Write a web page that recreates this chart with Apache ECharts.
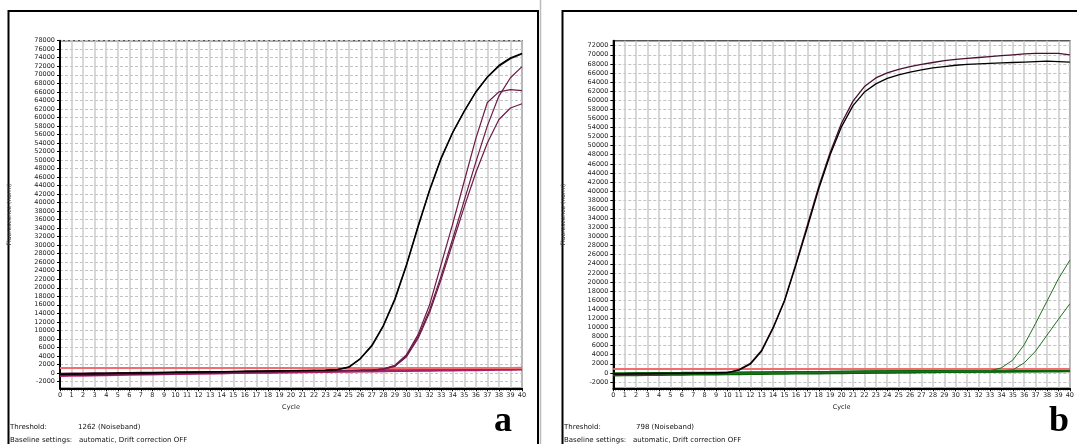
<!DOCTYPE html>
<html>
<head>
<meta charset="utf-8">
<script src="https://cdn.jsdelivr.net/npm/echarts@6/dist/echarts.min.js"></script>
<style>html,body{margin:0;padding:0;background:#fff;}#c{width:1077px;height:444px;}</style>
</head>
<body>
<div id="c"></div>
<script>
// ---------- DATA ----------
const cycles = [0,1,2,3,4,5,6,7,8,9,10,11,12,13,14,15,16,17,18,19,20,21,22,23,24,25,26,27,28,29,30,31,32,33,34,35,36,37,38,39,40];

const yTicksA = [-2000,0,2000,4000,6000,8000,10000,12000,14000,16000,18000,20000,22000,24000,26000,28000,30000,32000,34000,36000,38000,40000,42000,44000,46000,48000,50000,52000,54000,56000,58000,60000,62000,64000,66000,68000,70000,72000,74000,76000,78000];
const yTicksB = [-2000,0,2000,4000,6000,8000,10000,12000,14000,16000,18000,20000,22000,24000,26000,28000,30000,32000,34000,36000,38000,40000,42000,44000,46000,48000,50000,52000,54000,56000,58000,60000,62000,64000,66000,68000,70000,72000];

const thresholdA = 1262;
const thresholdB = 798;

// Panel a: amplifying (black)
const aBlack1 = [-320,-280,-230,-190,-140,-100,-50,-10,40,80,120,170,210,250,290,330,370,410,450,490,530,570,610,650,800,1400,3400,6500,11200,17500,25500,34500,43000,50500,56500,61500,66000,69500,72200,74000,75000];
const aBlack2 = [-250,-210,-170,-130,-90,-40,0,40,80,130,170,210,250,290,330,370,400,440,480,520,560,590,630,670,760,1300,3300,6300,11000,17200,25200,34200,42800,50300,56400,61400,65900,69400,72000,73800,74900];
// Panel a: amplifying (maroon)
const aPurple1 = [-450,-410,-370,-330,-290,-250,-200,-160,-120,-80,-40,0,40,90,130,170,210,250,290,330,380,420,460,500,540,580,620,660,950,1800,4300,9000,16000,25500,35000,45000,55000,63500,66000,66500,66300];
const aPurple2 = [-550,-500,-460,-410,-370,-320,-280,-230,-190,-140,-100,-50,-10,40,80,130,170,220,260,310,350,400,440,490,530,580,620,670,900,1650,4000,8500,14800,22800,31500,40500,49500,58000,65000,69300,71900];
const aPurple3 = [-650,-600,-550,-500,-450,-400,-350,-300,-250,-200,-150,-100,-60,-10,40,90,140,190,240,290,340,380,430,480,530,580,620,670,880,1550,3800,8100,14200,22000,30500,39000,47000,54000,59500,62200,63200];
// Panel a: non-amplifying
const aFlat1 = [-700,-650,-610,-560,-510,-460,-420,-360,-320,-270,-230,-170,-120,-80,-30,20,60,110,160,210,250,300,350,400,440,500,540,590,640,680,730,780,830,870,920,970,1010,1060,1110,1150,1200];
const aFlat2 = [-200,-170,-140,-110,-90,-60,-30,0,30,50,80,110,140,170,200,230,250,280,310,340,370,400,420,450,480,510,540,570,590,620,650,680,710,740,760,790,820,850,880,910,940];
const aFlat3 = [-500,-470,-440,-400,-370,-340,-300,-270,-240,-200,-170,-140,-100,-70,-40,0,30,60,100,130,160,200,230,260,290,330,360,390,430,460,490,530,560,590,620,660,690,720,760,790,820];

// Panel b: amplifying (black / dark maroon)
const bBlack1 = [-350,-320,-290,-250,-220,-180,-150,-110,-80,-40,0,700,2100,5000,10000,16000,24000,32500,41000,48500,55000,59800,63000,64900,66000,66800,67400,67900,68300,68700,69000,69200,69400,69600,69800,70000,70200,70300,70300,70300,70000];
const bBlack2 = [-250,-220,-190,-160,-130,-100,-70,-40,-10,20,50,600,1900,4800,9800,15800,23700,32000,40500,48000,54200,58800,61800,63600,64800,65600,66200,66700,67100,67400,67700,67900,68000,68100,68200,68300,68400,68500,68600,68500,68400];
// Panel b: amplifying (green)
const bGreen1 = [-300,-280,-260,-240,-220,-200,-180,-160,-130,-110,-90,-60,-40,-20,0,20,50,70,90,110,140,160,180,200,230,250,270,290,320,340,360,380,410,450,1100,2800,6200,10900,15800,20700,24800];
const bGreen2 = [-350,-330,-300,-280,-260,-230,-210,-190,-160,-140,-120,-90,-70,-50,-20,0,20,50,70,90,120,140,160,190,210,230,260,280,300,330,350,370,400,420,440,650,2200,4800,8300,11800,15200];
// Panel b: non-amplifying (green)
const bFlat1 = [-500,-470,-450,-420,-400,-370,-350,-320,-300,-270,-250,-220,-200,-170,-150,-120,-100,-70,-50,-20,0,30,50,80,100,130,150,180,200,230,250,280,300,330,350,380,400,430,450,480,500];
const bFlat2 = [-300,-280,-250,-230,-200,-180,-160,-130,-110,-80,-60,-30,-10,20,40,60,90,110,140,160,190,210,230,260,280,310,330,360,380,410,430,450,480,500,530,550,580,600,620,640,650];
const bFlat3 = [-150,-140,-120,-110,-100,-80,-70,-50,-40,-30,-10,0,20,30,40,60,70,90,100,110,130,140,160,170,180,200,210,230,240,250,270,280,300,310,320,340,350,370,380,390,400];
const bFlat4 = [-400,-370,-350,-320,-290,-260,-230,-200,-180,-150,-120,-90,-60,-30,-10,20,50,80,110,130,160,190,220,250,270,300,330,360,390,420,440,470,500,530,560,580,610,640,670,690,700];

// ---------- CHART ----------
const FONT = 'DejaVu Sans';
const chart = echarts.init(document.getElementById('c'), null, {renderer: 'canvas'});

function lineSeries(idx, data, color, width, z, thr) {
  const s = {
    type: 'line', xAxisIndex: idx, yAxisIndex: idx,
    data: cycles.map((c, i) => [c, data[i]]),
    symbol: 'none', showSymbol: false, silent: true, animation: false,
    lineStyle: {color: color, width: width}, itemStyle: {color: color}, z: z
  };
  if (thr !== undefined) {
    s.markLine = {symbol: 'none', silent: true, animation: false, label: {show: false},
      lineStyle: {color: '#f26d6d', width: 2, type: 'solid'}, data: [{yAxis: thr}]};
  }
  return s;
}

function xAx(idx) {
  return {
    gridIndex: idx, type: 'value', min: 0, max: 40, interval: 1,
    name: 'Cycle', nameLocation: 'middle', nameGap: 14,
    nameTextStyle: {fontFamily: FONT, fontSize: 6.5, color: '#222'},
    axisLine: {show: true, onZero: false, lineStyle: {color: '#000', width: 2}},
    axisTick: {show: true, length: 3, lineStyle: {color: '#000', width: 1}},
    minorTick: {show: true, splitNumber: 5, length: 2, lineStyle: {color: '#000', width: 1}},
    axisLabel: {fontFamily: FONT, fontSize: 6.5, color: '#222', margin: 4, showMinLabel: true, showMaxLabel: true,
      formatter: v => String(v)},
    splitLine: {show: true, lineStyle: {color: '#cbcbcb', width: 1.5}}
  };
}
function yAx(idx, min, max, ticks, gap) {
  return {
    gridIndex: idx, type: 'value', min: min, max: max,
    name: 'Fluorescence (norm)', nameLocation: 'middle', nameGap: gap, nameRotate: 90,
    nameTextStyle: {fontFamily: FONT, fontSize: 6, color: '#333'},
    axisLine: {show: true, onZero: false, lineStyle: {color: '#000', width: 2}},
    axisTick: {show: true, length: 3, customValues: ticks, lineStyle: {color: '#000', width: 1}},
    axisLabel: {fontFamily: FONT, fontSize: 6.5, color: '#222', margin: 5, customValues: ticks,
      formatter: v => String(v)},
    splitLine: {show: true, lineStyle: {color: '#c2c2c2', width: 1, type: [3, 2]}}
  };
}

const txt = (x, y, s, size, extra) => Object.assign({
  type: 'text', left: x, top: y, silent: true,
  style: {text: s, fontFamily: FONT, fontSize: size, fill: '#111'}
}, extra || {});

const option = {
  animation: false,
  backgroundColor: '#fff',
  grid: [
    {left: 60, top: 40.7, right: 555, bottom: 55.7, show: true, borderColor: '#555', borderWidth: 1.5, backgroundColor: '#fff'},
    {left: 613.3, top: 40.7, right: 4, bottom: 55.7, show: true, borderColor: '#555', borderWidth: 1.5, backgroundColor: '#fff'}
  ],
  xAxis: [xAx(0), xAx(1)],
  yAxis: [yAx(0, -3600, 78000, yTicksA, 47.5), yAx(1, -3400, 73100, yTicksB, 46.5)],
  series: [
    lineSeries(0, aFlat2, '#5a0a32', 2.2, 2, thresholdA),
    lineSeries(0, aFlat1, '#c2387a', 2.2, 3),
    lineSeries(0, aFlat3, '#a8205f', 2.2, 3),
    lineSeries(0, aPurple3, '#6e1a48', 1.2, 5),
    lineSeries(0, aPurple2, '#6e1a48', 1.2, 5),
    lineSeries(0, aPurple1, '#6e1a48', 1.2, 5),
    lineSeries(0, aBlack2, '#1a0a12', 1.3, 6),
    lineSeries(0, aBlack1, '#000000', 1.3, 6),

    lineSeries(1, bFlat1, '#0a640a', 2.6, 2, thresholdB),
    lineSeries(1, bFlat2, '#0a640a', 2.6, 3),
    lineSeries(1, bFlat3, '#0a640a', 2.6, 3),
    lineSeries(1, bFlat4, '#0a640a', 2.6, 3),
    lineSeries(1, bGreen2, '#1f6f1f', 1, 5),
    lineSeries(1, bGreen1, '#1f6f1f', 1, 5),
    lineSeries(1, bBlack1, '#4a1030', 1.3, 6),
    lineSeries(1, bBlack2, '#000000', 1.3, 6)
  ],
  graphic: [
    {type: 'rect', silent: true, shape: {x: 8.5, y: 11, width: 529.5, height: 460}, style: {fill: 'none', stroke: '#000', lineWidth: 2}},
    {type: 'line', silent: true, shape: {x1: 540.5, y1: 0, x2: 540.5, y2: 444}, style: {stroke: '#bbb', lineWidth: 1.5}},
    {type: 'rect', silent: true, shape: {x: 562.5, y: 11, width: 540, height: 460}, style: {fill: 'none', stroke: '#000', lineWidth: 2}},
    txt(10, 424, 'Threshold:', 7),
    txt(78, 424, thresholdA + ' (Noiseband)', 7),
    txt(10, 436.5, 'Baseline settings:', 7),
    txt(79, 436.5, 'automatic, Drift correction OFF', 7),
    txt(564, 424, 'Threshold:', 7),
    txt(636, 424, thresholdB + ' (Noiseband)', 7),
    txt(564, 436.5, 'Baseline settings:', 7),
    txt(633, 436.5, 'automatic, Drift correction OFF', 7),
    {type: 'text', left: 494, top: 404, silent: true, style: {text: 'a', fontFamily: 'Liberation Serif', fontWeight: 'bold', fontSize: 36, fill: '#000'}},
    {type: 'text', left: 1049, top: 404, silent: true, style: {text: 'b', fontFamily: 'Liberation Serif', fontWeight: 'bold', fontSize: 36, fill: '#000'}}
  ]
};
chart.setOption(option);
</script>
</body>
</html>
